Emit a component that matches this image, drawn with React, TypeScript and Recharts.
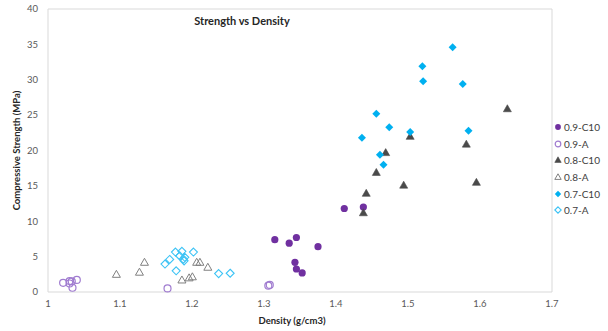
import React from 'react';
import { ScatterChart, Scatter, XAxis, YAxis, ReferenceLine } from 'recharts';

// [density, strength]
const s09C10: [number, number][] = [
  [1.315, 7.4], [1.335, 6.9], [1.345, 7.7], [1.375, 6.4], [1.343, 4.2],
  [1.345, 3.25], [1.353, 2.7], [1.4115, 11.8], [1.438, 12.0],
];
const s09A: [number, number][] = [
  [1.021, 1.3], [1.03, 1.55], [1.033, 1.5], [1.04, 1.7], [1.034, 0.6],
  [1.03, 1.2], [1.166, 0.5], [1.306, 0.9], [1.308, 1.0],
];
const s08C10: [number, number][] = [
  [1.438, 11.2], [1.442, 13.95], [1.456, 16.9], [1.469, 19.7], [1.494, 15.1],
  [1.503, 22.0], [1.581, 20.9], [1.595, 15.5], [1.638, 25.9],
];
const s08A: [number, number][] = [
  [1.095, 2.5], [1.127, 2.8], [1.134, 4.2], [1.2065, 4.2], [1.211, 4.2],
  [1.222, 3.5], [1.186, 1.7], [1.196, 2.0], [1.2005, 2.15],
];
const s07C10: [number, number][] = [
  [1.436, 21.8], [1.456, 25.2], [1.461, 19.4], [1.466, 18.0], [1.474, 23.3],
  [1.503, 22.6], [1.52, 31.9], [1.521, 29.8], [1.562, 34.6], [1.576, 29.4], [1.584, 22.8],
];
const s07A: [number, number][] = [
  [1.1625, 3.95], [1.169, 4.6], [1.177, 5.65], [1.186, 5.75], [1.183, 5.1],
  [1.188, 4.65], [1.19, 4.9], [1.189, 4.4], [1.202, 5.65], [1.178, 3.0],
  [1.237, 2.6], [1.253, 2.65],
];

const xTicks = [1, 1.1, 1.2, 1.3, 1.4, 1.5, 1.6, 1.7];
const yTicks = [0, 5, 10, 15, 20, 25, 30, 35, 40];
const seriesNames = ['0.9-C10', '0.9-A', '0.8-C10', '0.8-A', '0.7-C10', '0.7-A'];

const toRows = (arr: [number, number][]) => arr.map(([d, s]) => ({ d, s }));

const PURPLE = '#7030a0';
const PURPLE_L = '#a07cd0';
const DARK = '#4a4a4a';
const GRAY = '#808080';
const CYAN = '#00b0f0';
const CYAN_L = '#3cc3f5';

type Kind = 'fc' | 'oc' | 'ft' | 'ot' | 'fd' | 'od';
const kinds: Kind[] = ['fc', 'oc', 'ft', 'ot', 'fd', 'od'];

function Marker({ kind, cx, cy, scale = 1 }: { kind: Kind; cx: number; cy: number; scale?: number }) {
  const k = scale;
  switch (kind) {
    case 'fc':
      return <circle cx={cx} cy={cy} r={3.6 * k} fill={PURPLE} />;
    case 'oc':
      return <circle cx={cx} cy={cy} r={3.5 * k} fill="none" stroke={PURPLE_L} strokeWidth={1.2} />;
    case 'ft':
      return (
        <polygon
          points={`${cx},${cy - 4 * k} ${cx - 4 * k},${cy + 3 * k} ${cx + 4 * k},${cy + 3 * k}`}
          fill={DARK}
          stroke={DARK}
          strokeWidth={0.6}
        />
      );
    case 'ot':
      return (
        <polygon
          points={`${cx},${cy - 4 * k} ${cx - 4 * k},${cy + 3 * k} ${cx + 4 * k},${cy + 3 * k}`}
          fill="none"
          stroke={GRAY}
          strokeWidth={1}
        />
      );
    case 'fd':
      return (
        <polygon
          points={`${cx},${cy - 4 * k} ${cx + 4 * k},${cy} ${cx},${cy + 4 * k} ${cx - 4 * k},${cy}`}
          fill={CYAN}
        />
      );
    case 'od':
      return (
        <polygon
          points={`${cx},${cy - 4 * k} ${cx + 4 * k},${cy} ${cx},${cy + 4 * k} ${cx - 4 * k},${cy}`}
          fill="none"
          stroke={CYAN_L}
          strokeWidth={1.1}
        />
      );
  }
  return null;
}

const shapeFor = (kind: Kind) => (props: any) => <Marker kind={kind} cx={props.cx} cy={props.cy} />;

const FONT = 'Lato, "Noto Sans", sans-serif';
const tickStyle = { fontSize: 9.5, fill: '#595959', fontFamily: FONT };
const FRAME = '#d9d9d9';

export default function App() {
  const series = [s09C10, s09A, s08C10, s08A, s07C10, s07A];
  return (
    <div style={{ position: 'relative', width: 608, height: 331, fontFamily: FONT, background: '#fff' }}>
      <style>{`body{margin:0}`}</style>
      <ScatterChart width={608} height={331} margin={{ top: 9, right: 56, bottom: 0, left: 0 }}>
        <XAxis
          type="number"
          dataKey="d"
          domain={[1, 1.7]}
          ticks={xTicks}
          tickLine={false}
          axisLine={{ stroke: FRAME }}
          tick={tickStyle}
          height={39}
          tickFormatter={(v: number) => String(v)}
          label={{
            value: 'Density (g/cm3)',
            position: 'insideBottom',
            offset: 7,
            dx: -8,
            style: { fontSize: 9.5, fontWeight: 700, fill: '#262626', fontFamily: FONT },
          }}
        />
        <YAxis
          type="number"
          dataKey="s"
          domain={[0, 40]}
          ticks={yTicks}
          tickLine={false}
          axisLine={{ stroke: FRAME }}
          tick={tickStyle}
          width={48}
          tickMargin={4}
          label={{
            value: 'Compressive Strength (MPa)',
            angle: -90,
            position: 'insideLeft',
            offset: 17,
            style: { fontSize: 9.5, fontWeight: 700, fill: '#262626', fontFamily: FONT, textAnchor: 'middle' },
          }}
        />
        <ReferenceLine y={40} stroke={FRAME} />
        <ReferenceLine x={1.7} stroke={FRAME} />
        {series.map((arr, i) => (
          <Scatter
            key={seriesNames[i]}
            name={seriesNames[i]}
            data={toRows(arr)}
            shape={shapeFor(kinds[i])}
            isAnimationActive={false}
          />
        ))}
      </ScatterChart>
      <div
        style={{
          position: 'absolute',
          left: 142,
          width: 200,
          top: 14,
          textAlign: 'center',
          fontSize: 11,
          fontWeight: 700,
          color: '#262626',
          lineHeight: '14px',
        }}
      >
        Strength vs Density
      </div>
      <div style={{ position: 'absolute', left: 553, top: 119 }}>
        {seriesNames.map((name, i) => (
          <div key={name} style={{ display: 'flex', alignItems: 'center', height: 16.6 }}>
            <svg width={10} height={12} style={{ display: 'block' }}>
              <Marker kind={kinds[i]} cx={5} cy={6} scale={0.8} />
            </svg>
            <span style={{ fontSize: 10, color: '#404040', marginLeft: 1, whiteSpace: 'nowrap' }}>{name}</span>
          </div>
        ))}
      </div>
    </div>
  );
}
